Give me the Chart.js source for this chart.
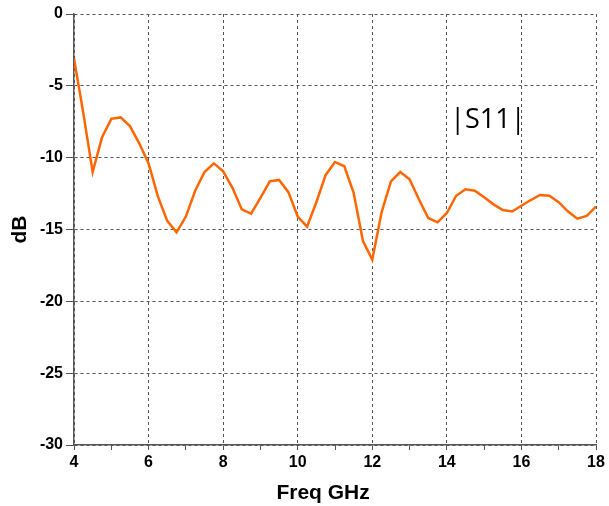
<!DOCTYPE html>
<html>
<head>
<meta charset="utf-8">
<script src="https://cdn.jsdelivr.net/npm/chart.js@4"></script>
<style>
  html, body { margin: 0; padding: 0; background: #fff; }
  #wrap { width: 609px; height: 506px; }
</style>
</head>
<body>
<div id="wrap"><canvas id="myChart" width="609" height="506"></canvas></div>
<script>
// frequency points (GHz)
const freqGHz = [
  4.00, 4.25, 4.50, 4.75, 5.00, 5.25, 5.50, 5.75, 6.00, 6.25,
  6.50, 6.75, 7.00, 7.25, 7.50, 7.75, 8.00, 8.25, 8.50, 8.75,
  9.00, 9.25, 9.50, 9.75, 10.00, 10.25, 10.50, 10.75, 11.00, 11.25,
  11.50, 11.75, 12.00, 12.25, 12.50, 12.75, 13.00, 13.25, 13.50, 13.75,
  14.00, 14.25, 14.50, 14.75, 15.00, 15.25, 15.50, 15.75, 16.00, 16.25,
  16.50, 16.75, 17.00, 17.25, 17.50, 17.75, 18.00
];

// |S11| in dB
const s11dB = [
  -3.1, -6.9, -11.0, -8.6, -7.3, -7.2, -7.8, -9.0, -10.4, -12.7,
  -14.4, -15.2, -14.1, -12.3, -11.0, -10.4, -10.95, -12.1, -13.6, -13.9,
  -12.8, -11.65, -11.55, -12.4, -14.1, -14.8, -13.1, -11.2, -10.3, -10.6,
  -12.45, -15.8, -17.1, -13.8, -11.65, -11.0, -11.5, -12.9, -14.2, -14.5,
  -13.85, -12.65, -12.2, -12.3, -12.75, -13.25, -13.65, -13.75, -13.35, -12.95,
  -12.6, -12.65, -13.1, -13.75, -14.25, -14.05, -13.4
];

// axis settings
const xTicks = [4, 6, 8, 10, 12, 14, 16, 18];
const yTicks = [0, -5, -10, -15, -20, -25, -30];

// annotation text and where it sits (data units)
const noteText = "|S11|";
const notePos = { x: 15.1, y: -7.4 };
// x axis title, centred a bit left of the middle like the original
const xTitleText = "Freq GHz";
const xTitleAt = 10.68;

const points = freqGHz.map((f, i) => ({ x: f, y: s11dB[i] }));

const fontFamily = "'Liberation Sans', Arial, sans-serif";
const tickFont = { family: fontFamily, size: 16, weight: "bold" };
const titleFont = { family: fontFamily, size: 21, weight: "bold" };
const gridColor = "#555";

// draws the |S11| label inside the plot and the x axis title
const notePlugin = {
  id: "note",
  afterDraw(chart) {
    const { ctx, scales } = chart;
    ctx.save();
    ctx.fillStyle = "#000";
    ctx.textAlign = "center";
    ctx.textBaseline = "middle";
    ctx.font = "27px 'Open Sans', sans-serif";
    ctx.fillText(noteText, scales.x.getPixelForValue(notePos.x), scales.y.getPixelForValue(notePos.y));
    ctx.font = "bold 21px " + fontFamily;
    ctx.fillText(xTitleText, scales.x.getPixelForValue(xTitleAt), scales.x.bottom - 12.5);
    ctx.restore();
  },
};

const ctx = document.getElementById("myChart").getContext("2d");
new Chart(ctx, {
  type: "line",
  data: {
    datasets: [
      {
        label: "|S11|",
        data: points,
        borderColor: "#FF6600",
        backgroundColor: "#FF6600",
        borderWidth: 2.5,
        pointRadius: 0,
        tension: 0,
      },
    ],
  },
  options: {
    responsive: false,
    animation: false,
    layout: { padding: { left: 0, top: 14, right: 13, bottom: 0 } },
    plugins: {
      legend: { display: false },
      tooltip: { enabled: false },
    },
    scales: {
      x: {
        type: "linear",
        min: 4,
        max: 18,
        afterFit: (s) => { s.height = 61; },
        afterBuildTicks: (s) => {
          // every 1 GHz, labels only on the even ones
          const t = [];
          for (let v = 4; v <= 18; v++) t.push({ value: v });
          s.ticks = t;
        },
        ticks: {
          autoSkip: false,
          maxRotation: 0,
          padding: 3,
          color: "#000",
          font: tickFont,
          callback: (v) => (xTicks.includes(v) ? String(v) : ""),
        },
        grid: {
          color: (c) => (c.tick && xTicks.includes(c.tick.value) ? gridColor : "rgba(0,0,0,0)"),
          tickColor: gridColor,
          tickLength: 5,
          lineWidth: 1,
        },
        border: { display: true, color: "#555", width: 1.5, dash: [3, 3] },
        title: { display: false },
      },
      y: {
        min: -30,
        max: 0,
        afterFit: (s) => { s.width = 74; },
        afterBuildTicks: (s) => { s.ticks = yTicks.map((v) => ({ value: v })); },
        ticks: {
          padding: 3,
          color: "#000",
          font: tickFont,
        },
        grid: {
          color: gridColor,
          tickColor: gridColor,
          tickLength: 8,
          lineWidth: 1,
        },
        border: { display: true, color: "#555", width: 1.5, dash: [3, 3] },
        title: {
          display: true,
          text: "dB",
          color: "#000",
          font: titleFont,
          padding: { top: 8, bottom: 0 },
        },
      },
    },
  },
  plugins: [notePlugin],
});
</script>
</body>
</html>
